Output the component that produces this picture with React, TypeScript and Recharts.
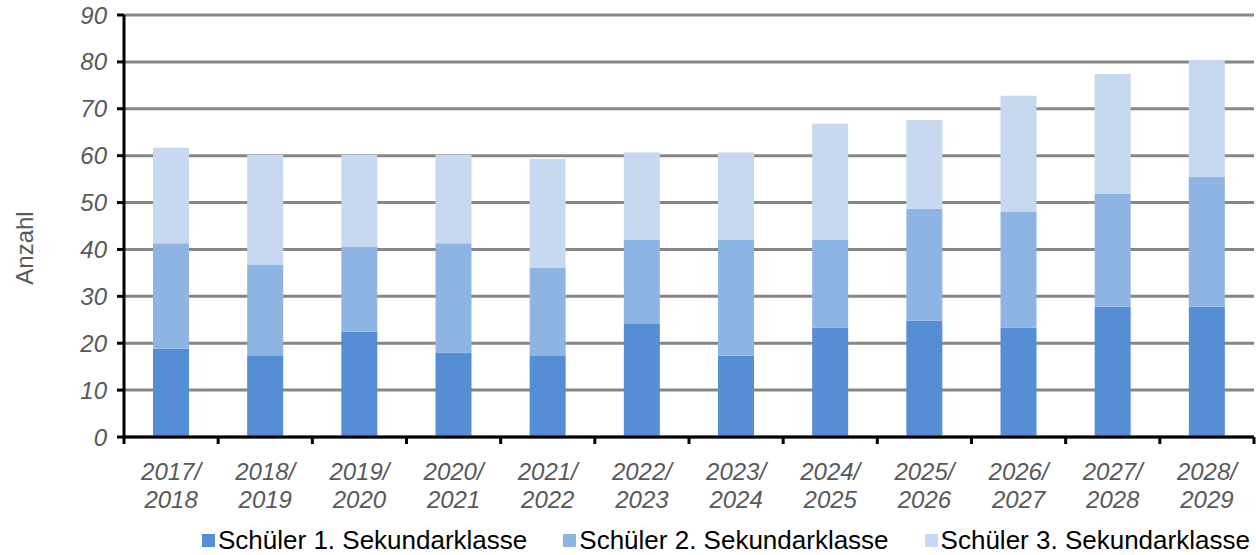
import React from 'react';
import {
  BarChart,
  Bar,
  XAxis,
  YAxis,
  CartesianGrid,
  Legend
} from 'recharts';

const years = [
  '2017/2018', '2018/2019', '2019/2020', '2020/2021', '2021/2022', '2022/2023',
  '2023/2024', '2024/2025', '2025/2026', '2026/2027', '2027/2028', '2028/2029'
];
const klasse1 = [18.8, 17.3, 22.5, 18.0, 17.3, 24.1, 17.4, 23.3, 24.8, 23.3, 27.8, 27.8];
const klasse2 = [22.5, 19.5, 18.0, 23.3, 18.8, 17.9, 24.6, 18.7, 23.9, 24.7, 24.0, 27.7];
const klasse3 = [20.4, 23.4, 19.7, 18.9, 23.2, 18.7, 18.7, 24.8, 18.9, 24.8, 25.6, 24.9];
const yTicks = [0, 10, 20, 30, 40, 50, 60, 70, 80, 90];

const seriesNames = ['Schüler 1. Sekundarklasse', 'Schüler 2. Sekundarklasse', 'Schüler 3. Sekundarklasse'];
const seriesColors = ['#558ED5', '#8EB4E3', '#C6D9F1'];

const FONT = '"Liberation Sans", Arial, sans-serif';
const TEXT_GRAY = '#595959';

const data = years.map((y, i) => ({
  year: y,
  k1: klasse1[i],
  k2: klasse2[i],
  k3: klasse3[i]
}));

// two-line italic year labels plus tick marks at the category borders
const YearTick = (props: any) => {
  const { x, y, payload, index } = props;
  const half = payload && payload.offset ? payload.offset : 47;
  const [a, b] = String(payload.value).split('/');
  const isLast = index === years.length - 1;
  return (
    <g>
      <line x1={x - half} x2={x - half} y1={y} y2={y + 7} stroke="#000" strokeWidth={3} />
      {isLast && <line x1={x + half} x2={x + half} y1={y} y2={y + 7} stroke="#000" strokeWidth={3} />}
      <text
        x={x}
        y={y}
        textAnchor="middle"
        fill={TEXT_GRAY}
        fontSize={24}
        fontStyle="italic"
        fontFamily={FONT}
      >
        <tspan x={x} dy={43}>{a}/</tspan>
        <tspan x={x} dy={28}>{b}</tspan>
      </text>
    </g>
  );
};

const LegendContent = () => (
  <div style={{ display: 'flex', alignItems: 'center', height: 30, fontFamily: FONT, fontSize: 26, color: '#000' }}>
    {seriesNames.map((name, i) => (
      <div key={name} style={{ display: 'flex', alignItems: 'center', marginRight: i < 2 ? 36 : 0 }}>
        <span style={{ display: 'inline-block', width: 13, height: 13, background: seriesColors[i], marginRight: 3 }} />
        <span style={{ whiteSpace: 'nowrap' }}>{name}</span>
      </div>
    ))}
  </div>
);

export default function App() {
  return (
    <div style={{ width: 1256, height: 555, position: 'relative', background: '#fff' }}>
      <style>{'body{margin:0;}'}</style>
      <BarChart
        width={1256}
        height={555}
        data={data}
        margin={{ top: 15, right: 2, left: 0, bottom: 0 }}
        barSize={36}
      >
        <CartesianGrid vertical={false} stroke="#868686" strokeWidth={3} />
        <XAxis
          dataKey="year"
          height={88}
          tickSize={0}
          tickMargin={0}
          tickLine={false}
          axisLine={{ stroke: '#000', strokeWidth: 3 }}
          tick={<YearTick />}
          interval={0}
        />
        <YAxis
          width={124}
          domain={[0, 90]}
          ticks={yTicks}
          interval={0}
          tickSize={7}
          tickMargin={10}
          tickLine={{ stroke: '#000', strokeWidth: 3 }}
          axisLine={{ stroke: '#000', strokeWidth: 3 }}
          tick={{ fill: TEXT_GRAY, fontSize: 24, fontStyle: 'italic', fontFamily: FONT }}
          label={() => (
            <text
              x={33}
              y={248}
              transform="rotate(-90 33 248)"
              textAnchor="middle"
              fill={TEXT_GRAY}
              fontSize={24}
              fontFamily={FONT}
            >
              Anzahl
            </text>
          )}
        />
        <Legend
          verticalAlign="bottom"
          content={<LegendContent />}
          wrapperStyle={{ left: 202, bottom: 0, width: 1054, height: 30 }}
        />
        <Bar dataKey="k1" name={seriesNames[0]} stackId="s" fill={seriesColors[0]} isAnimationActive={false} />
        <Bar dataKey="k2" name={seriesNames[1]} stackId="s" fill={seriesColors[1]} isAnimationActive={false} />
        <Bar dataKey="k3" name={seriesNames[2]} stackId="s" fill={seriesColors[2]} isAnimationActive={false} />
      </BarChart>
    </div>
  );
}
